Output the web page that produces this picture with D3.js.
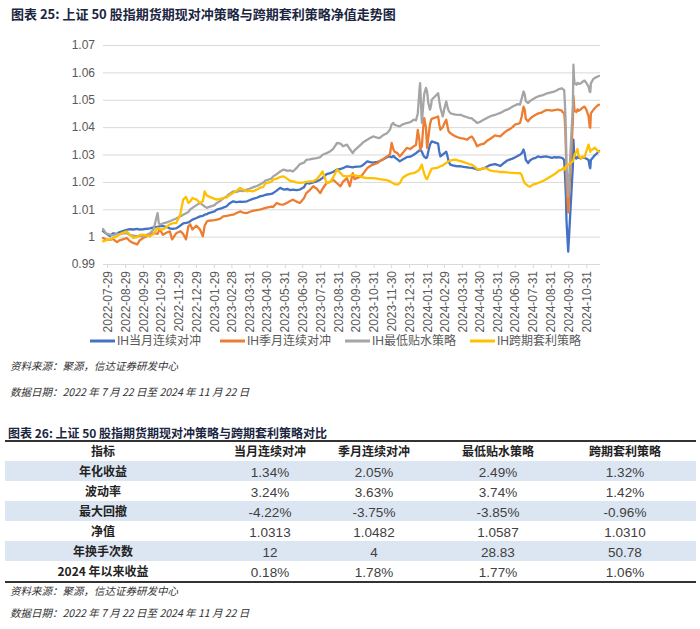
<!DOCTYPE html>
<html><head><meta charset="utf-8">
<script src="https://cdn.jsdelivr.net/npm/d3@7"></script>
<style>
body{margin:0;background:#fff;}
svg{display:block;}
</style></head>
<body><svg id="c" width="700" height="629"></svg>
<script>
const dates = [
"2022-07-22","2022-07-27","2022-08-03","2022-08-08","2022-08-15","2022-08-19","2022-08-25","2022-09-01","2022-09-06","2022-09-12",
"2022-09-19","2022-09-23","2022-09-29","2022-10-11","2022-10-17","2022-10-24","2022-10-26","2022-10-28","2022-11-02","2022-11-09",
"2022-11-14","2022-11-18","2022-11-25","2022-12-02","2022-12-07","2022-12-12","2022-12-16","2022-12-19","2022-12-23","2022-12-30",
"2023-01-05","2023-01-10","2023-01-13","2023-01-17","2023-01-20","2023-01-30","2023-02-03","2023-02-09","2023-02-14","2023-02-20",
"2023-02-24","2023-03-03","2023-03-09","2023-03-15","2023-03-20","2023-03-27","2023-03-31","2023-04-06","2023-04-13","2023-04-18",
"2023-04-24","2023-04-28","2023-05-08","2023-05-11","2023-05-17","2023-05-23","2023-05-29","2023-06-05","2023-06-09","2023-06-14",
"2023-06-20","2023-06-26","2023-07-03","2023-07-07","2023-07-13","2023-07-19","2023-07-25","2023-07-31","2023-08-04","2023-08-11",
"2023-08-17","2023-08-22","2023-08-29","2023-09-04","2023-09-08","2023-09-15","2023-09-20","2023-09-25","2023-09-28","2023-10-09",
"2023-10-13","2023-10-20","2023-10-25","2023-10-30","2023-11-06","2023-11-10","2023-11-16","2023-11-23","2023-11-28","2023-12-01",
"2023-12-04","2023-12-06","2023-12-11","2023-12-15","2023-12-20","2023-12-27","2024-01-02","2024-01-08","2024-01-12","2024-01-15",
"2024-01-18","2024-01-19","2024-01-22","2024-01-24","2024-01-26","2024-01-29","2024-01-31","2024-02-02","2024-02-05","2024-02-07",
"2024-02-08","2024-02-19","2024-02-21","2024-02-23","2024-02-27","2024-03-01","2024-03-04","2024-03-06","2024-03-08","2024-03-11",
"2024-03-15","2024-03-20","2024-03-25","2024-03-29","2024-04-03","2024-04-09","2024-04-12","2024-04-17","2024-04-19","2024-04-24",
"2024-04-26","2024-04-30","2024-05-08","2024-05-13","2024-05-17","2024-05-22","2024-05-27","2024-05-31","2024-06-05","2024-06-12",
"2024-06-17","2024-06-21","2024-06-26","2024-07-01","2024-07-05","2024-07-09","2024-07-12","2024-07-15","2024-07-17","2024-07-19",
"2024-07-23","2024-07-26","2024-07-31","2024-08-05","2024-08-09","2024-08-14","2024-08-19","2024-08-23","2024-08-28","2024-09-02",
"2024-09-06","2024-09-11","2024-09-13","2024-09-19","2024-09-20","2024-09-23","2024-09-24","2024-09-25","2024-09-26","2024-09-27",
"2024-09-30","2024-10-08","2024-10-09","2024-10-10","2024-10-11","2024-10-14","2024-10-16","2024-10-18","2024-10-22","2024-10-24",
"2024-10-28","2024-10-31","2024-11-04","2024-11-06","2024-11-07","2024-11-08","2024-11-12","2024-11-15","2024-11-19","2024-11-22"];

const ihMonthly = [
1.0020,1.0012,1.0002,1.0012,1.0010,1.0016,1.0020,1.0025,1.0027,1.0026,
1.0028,1.0026,1.0027,1.0030,1.0034,1.0036,1.0036,1.0038,1.0038,1.0035,
1.0030,1.0028,1.0030,1.0040,1.0048,1.0050,1.0052,1.0056,1.0062,1.0068,
1.0074,1.0076,1.0080,1.0082,1.0086,1.0092,1.0099,1.0102,1.0106,1.0111,
1.0120,1.0129,1.0126,1.0128,1.0127,1.0129,1.0133,1.0138,1.0142,1.0147,
1.0150,1.0153,1.0156,1.0159,1.0168,1.0178,1.0172,1.0174,1.0170,1.0172,
1.0170,1.0172,1.0180,1.0196,1.0194,1.0198,1.0202,1.0208,1.0215,1.0228,
1.0232,1.0236,1.0245,1.0247,1.0250,1.0257,1.0255,1.0253,1.0255,1.0257,
1.0262,1.0275,1.0272,1.0270,1.0273,1.0275,1.0282,1.0290,1.0293,1.0290,
1.0295,1.0290,1.0282,1.0275,1.0282,1.0290,1.0292,1.0299,1.0305,1.0310,
1.0315,1.0318,1.0310,1.0300,1.0292,1.0287,1.0290,1.0310,1.0336,1.0345,
1.0348,1.0340,1.0310,1.0293,1.0300,1.0305,1.0310,1.0295,1.0275,1.0263,
1.0260,1.0258,1.0257,1.0257,1.0255,1.0253,1.0252,1.0251,1.0250,1.0247,
1.0245,1.0245,1.0250,1.0255,1.0260,1.0263,1.0265,1.0262,1.0258,1.0270,
1.0278,1.0281,1.0285,1.0290,1.0295,1.0299,1.0305,1.0318,1.0305,1.0280,
1.0269,1.0278,1.0285,1.0288,1.0293,1.0290,1.0292,1.0293,1.0290,1.0288,
1.0290,1.0289,1.0290,1.0288,1.0287,1.0280,1.0245,1.0200,1.0150,1.0060,
0.9945,1.0260,1.0354,1.0310,1.0290,1.0285,1.0292,1.0288,1.0286,1.0290,
1.0288,1.0285,1.0280,1.0255,1.0250,1.0280,1.0290,1.0298,1.0305,1.0313];

const ihQuarterly = [
0.9995,0.9990,0.9988,0.9992,0.9980,0.9986,0.9990,0.9995,0.9984,0.9977,
0.9972,0.9986,0.9995,1.0007,1.0013,1.0010,1.0020,1.0026,1.0007,1.0015,
1.0019,0.9990,1.0012,1.0020,1.0010,0.9990,1.0038,1.0045,1.0026,1.0040,
1.0026,1.0001,1.0040,1.0056,1.0058,1.0060,1.0062,1.0066,1.0074,1.0076,
1.0078,1.0080,1.0086,1.0092,1.0088,1.0086,1.0090,1.0094,1.0097,1.0099,
1.0102,1.0105,1.0110,1.0108,1.0123,1.0118,1.0117,1.0125,1.0130,1.0135,
1.0128,1.0123,1.0140,1.0159,1.0170,1.0184,1.0175,1.0159,1.0175,1.0196,
1.0200,1.0208,1.0195,1.0184,1.0200,1.0214,1.0184,1.0232,1.0210,1.0220,
1.0230,1.0250,1.0258,1.0263,1.0268,1.0275,1.0283,1.0293,1.0300,1.0342,
1.0318,1.0310,1.0305,1.0293,1.0305,1.0324,1.0320,1.0330,1.0335,1.0390,
1.0350,1.0318,1.0330,1.0390,1.0433,1.0400,1.0324,1.0360,1.0410,1.0427,
1.0430,1.0439,1.0410,1.0390,1.0400,1.0415,1.0427,1.0405,1.0385,1.0378,
1.0372,1.0366,1.0362,1.0360,1.0358,1.0354,1.0360,1.0366,1.0360,1.0340,
1.0330,1.0335,1.0340,1.0350,1.0355,1.0362,1.0370,1.0368,1.0366,1.0380,
1.0388,1.0392,1.0400,1.0410,1.0412,1.0415,1.0440,1.0475,1.0465,1.0430,
1.0421,1.0430,1.0439,1.0445,1.0450,1.0452,1.0458,1.0462,1.0462,1.0460,
1.0462,1.0464,1.0464,1.0460,1.0455,1.0451,1.0430,1.0390,1.0320,1.0200,
1.0088,1.0420,1.0515,1.0480,1.0460,1.0455,1.0465,1.0460,1.0465,1.0470,
1.0475,1.0465,1.0440,1.0400,1.0398,1.0450,1.0462,1.0470,1.0478,1.0482];

const ihLowBasis = [
1.0028,1.0012,1.0007,1.0005,1.0010,1.0008,1.0012,1.0013,1.0006,1.0004,
1.0002,1.0003,1.0001,1.0012,1.0026,1.0086,1.0050,1.0044,1.0048,1.0052,
1.0056,1.0060,1.0066,1.0074,1.0080,1.0085,1.0090,1.0099,1.0105,1.0115,
1.0123,1.0115,1.0110,1.0105,1.0108,1.0115,1.0123,1.0130,1.0140,1.0147,
1.0155,1.0165,1.0163,1.0168,1.0166,1.0172,1.0175,1.0180,1.0185,1.0190,
1.0198,1.0205,1.0212,1.0220,1.0228,1.0238,1.0245,1.0240,1.0242,1.0238,
1.0250,1.0265,1.0270,1.0280,1.0282,1.0285,1.0287,1.0290,1.0299,1.0305,
1.0311,1.0320,1.0342,1.0340,1.0330,1.0336,1.0320,1.0305,1.0315,1.0336,
1.0345,1.0354,1.0360,1.0366,1.0362,1.0360,1.0370,1.0378,1.0390,1.0410,
1.0415,1.0408,1.0405,1.0403,1.0410,1.0415,1.0418,1.0427,1.0425,1.0450,
1.0540,1.0561,1.0415,1.0470,1.0520,1.0543,1.0530,1.0490,1.0464,1.0480,
1.0500,1.0524,1.0495,1.0470,1.0439,1.0470,1.0494,1.0475,1.0460,1.0451,
1.0448,1.0446,1.0445,1.0445,1.0440,1.0436,1.0434,1.0432,1.0428,1.0420,
1.0415,1.0418,1.0428,1.0433,1.0438,1.0442,1.0445,1.0448,1.0452,1.0460,
1.0464,1.0468,1.0475,1.0480,1.0484,1.0482,1.0505,1.0530,1.0520,1.0495,
1.0488,1.0495,1.0502,1.0508,1.0512,1.0515,1.0518,1.0522,1.0525,1.0528,
1.0530,1.0535,1.0538,1.0542,1.0540,1.0535,1.0500,1.0450,1.0380,1.0260,
1.0146,1.0480,1.0628,1.0580,1.0560,1.0555,1.0562,1.0558,1.0560,1.0565,
1.0570,1.0562,1.0548,1.0530,1.0528,1.0560,1.0575,1.0580,1.0584,1.0587];

const ihCalendar = [
0.9983,0.9986,0.9990,0.9995,1.0001,1.0008,1.0014,1.0019,1.0008,0.9995,
0.9998,1.0006,1.0007,1.0001,1.0010,1.0032,1.0030,1.0026,1.0026,1.0036,
1.0045,1.0048,1.0050,1.0080,1.0135,1.0145,1.0123,1.0128,1.0141,1.0135,
1.0123,1.0130,1.0165,1.0150,1.0147,1.0138,1.0135,1.0138,1.0141,1.0143,
1.0150,1.0159,1.0168,1.0178,1.0172,1.0165,1.0168,1.0165,1.0172,1.0178,
1.0182,1.0195,1.0200,1.0208,1.0212,1.0218,1.0220,1.0210,1.0204,1.0202,
1.0198,1.0196,1.0198,1.0200,1.0202,1.0202,1.0210,1.0225,1.0238,1.0196,
1.0200,1.0215,1.0245,1.0232,1.0222,1.0220,1.0222,1.0226,1.0224,1.0220,
1.0216,1.0214,1.0214,1.0214,1.0212,1.0210,1.0208,1.0206,1.0202,1.0198,
1.0195,1.0192,1.0190,1.0195,1.0215,1.0225,1.0230,1.0232,1.0236,1.0240,
1.0245,1.0250,1.0263,1.0245,1.0230,1.0214,1.0210,1.0220,1.0235,1.0245,
1.0248,1.0252,1.0255,1.0257,1.0260,1.0265,1.0269,1.0272,1.0275,1.0278,
1.0280,1.0281,1.0278,1.0276,1.0272,1.0268,1.0265,1.0263,1.0260,1.0252,
1.0247,1.0245,1.0250,1.0248,1.0243,1.0240,1.0238,1.0238,1.0236,1.0236,
1.0235,1.0234,1.0233,1.0232,1.0232,1.0232,1.0225,1.0205,1.0196,1.0192,
1.0185,1.0182,1.0190,1.0193,1.0196,1.0200,1.0205,1.0210,1.0216,1.0222,
1.0228,1.0235,1.0240,1.0245,1.0248,1.0252,1.0245,1.0250,1.0255,1.0260,
1.0262,1.0275,1.0280,1.0290,1.0300,1.0310,1.0320,1.0295,1.0285,1.0292,
1.0290,1.0310,1.0336,1.0320,1.0310,1.0315,1.0320,1.0325,1.0315,1.0310];

const seriesNames = ["IH当月连续对冲","IH季月连续对冲","IH最低贴水策略","IH跨期套利策略"];
const seriesColors = ["#4472c4","#ed7d31","#a5a5a5","#ffc000"];

const xTickLabels = ["2022-07-29","2022-08-29","2022-09-29","2022-10-29","2022-11-29","2022-12-29",
"2023-01-29","2023-02-28","2023-03-31","2023-04-30","2023-05-31","2023-06-30","2023-07-31","2023-08-31",
"2023-09-30","2023-10-31","2023-11-30","2023-12-31","2024-01-31","2024-02-29","2024-03-31","2024-04-30",
"2024-05-31","2024-06-30","2024-07-31","2024-08-31","2024-09-30","2024-10-31"];
const yTicks = [0.99,1.00,1.01,1.02,1.03,1.04,1.05,1.06,1.07];

const tableHeaders = ["指标","当月连续对冲","季月连续对冲","最低贴水策略","跨期套利策略"];
const rowLabels = ["年化收益","波动率","最大回撤","净值","年换手次数","2024 年以来收益"];
const colMonthly = ["1.34%","3.24%","-4.22%","1.0313","12","0.18%"];
const colQuarterly = ["2.05%","3.63%","-3.75%","1.0482","4","1.78%"];
const colLowBasis = ["2.49%","3.74%","-3.85%","1.0587","28.83","1.77%"];
const colCalendar = ["1.32%","1.42%","-0.96%","1.0310","50.78","1.06%"];

const title1 = "图表 25: 上证 50 股指期货期现对冲策略与跨期套利策略净值走势图";
const title2 = "图表 26: 上证 50 股指期货期现对冲策略与跨期套利策略对比";
const sourceText = "资料来源：聚源，信达证券研发中心";
const dateText = "数据日期：2022 年 7 月 22 日至 2024 年 11 月 22 日";

// ---------- drawing ----------
const svg = d3.select("#c");
const FONT = "'Liberation Sans','Noto Sans CJK SC',sans-serif";
const CJK = "'Noto Sans CJK SC','Liberation Sans',sans-serif";
svg.append("rect").attr("width",700).attr("height",629).attr("fill","#fff");

const parse = d3.timeParse("%Y-%m-%d");
const dts = dates.map(parse);
const x = d3.scaleTime().domain([dts[0], dts[dts.length-1]]).range([103, 599]);
const y = d3.scaleLinear().domain([0.99, 1.07]).range([264, 45]);

svg.append("text").attr("x",11).attr("y",19).text(title1)
  .attr("font-family",CJK).attr("font-weight","bold").attr("font-size",13).attr("fill","#1a2540");

// y grid + labels
const yAxis = svg.append("g").attr("transform","translate(103,0)")
  .call(d3.axisLeft(y).tickValues(yTicks).tickSize(-497).tickPadding(8)
    .tickFormat(d => String(+d.toFixed(2))));
yAxis.select(".domain").remove();
yAxis.selectAll("line").attr("stroke","#d9d9d9");
yAxis.selectAll("text").attr("fill","#595959").attr("font-size",12).attr("font-family",FONT);

// x axis
const xAxis = svg.append("g").attr("transform","translate(0,264)")
  .call(d3.axisBottom(x).tickValues(xTickLabels.map(parse)).tickSize(4).tickSizeOuter(0)
    .tickFormat(d3.timeFormat("%Y-%m-%d")));
xAxis.select(".domain").attr("stroke","#d9d9d9");
xAxis.selectAll("line").attr("stroke","#d9d9d9");
xAxis.selectAll("text").attr("fill","#595959").attr("font-size",12).attr("font-family",FONT)
  .attr("transform","rotate(-90)").attr("text-anchor","end")
  .attr("x",-7).attr("y",0).attr("dy","0.35em");

// lines
const allSeries = [ihMonthly, ihQuarterly, ihLowBasis, ihCalendar];
const line = d3.line().x((d,i)=>x(dts[i])).y(d=>y(d));
allSeries.forEach((s,k)=>{
  svg.append("path").datum(s).attr("d",line).attr("fill","none")
    .attr("stroke",seriesColors[k]).attr("stroke-width",2.3)
    .attr("stroke-linejoin","round").attr("stroke-linecap","round");
});

// legend
const legX = [90, 220, 345, 470];
seriesNames.forEach((n,k)=>{
  const g = svg.append("g").attr("transform",`translate(${legX[k]},341)`);
  g.append("line").attr("x1",0).attr("x2",25).attr("y1",0).attr("y2",0)
    .attr("stroke",seriesColors[k]).attr("stroke-width",3);
  g.append("text").attr("x",27).attr("y",0).attr("dy","0.35em").text(n)
    .attr("font-family",FONT).attr("font-size",12).attr("fill","#595959");
});

// source / date notes
function note(t, yy){
  svg.append("text").attr("x",10).attr("y",yy).text(t)
    .attr("font-family",CJK).attr("font-size",10.5).attr("font-style","italic").attr("fill","#333");
}
note(sourceText, 370);
note(dateText, 396);

// ---------- table ----------
svg.append("text").attr("x",8).attr("y",438).text(title2)
  .attr("font-family",CJK).attr("font-weight","bold").attr("font-size",12).attr("fill","#1a2540");

const rowH = 20, tTop = 441;
const colX = [103, 270, 374, 498, 625];
const cols = [colMonthly, colQuarterly, colLowBasis, colCalendar];
rowLabels.forEach((r,i)=>{
  if (i % 2 === 0) svg.append("rect").attr("x",5).attr("width",691)
    .attr("y",tTop+rowH*(i+1)).attr("height",rowH).attr("fill","#dce6f2");
});
svg.append("line").attr("x1",5).attr("x2",696).attr("y1",tTop).attr("y2",tTop)
  .attr("stroke","#333").attr("stroke-width",2);
svg.append("line").attr("x1",5).attr("x2",696).attr("y1",tTop+rowH*7+1).attr("y2",tTop+rowH*7+1)
  .attr("stroke","#333").attr("stroke-width",2);

tableHeaders.forEach((h,j)=>{
  svg.append("text").attr("x",colX[j]).attr("y",tTop+rowH/2+1).attr("dy","0.35em")
    .attr("text-anchor","middle").text(h)
    .attr("font-family",CJK).attr("font-weight","bold").attr("font-size",12).attr("fill","#222");
});
rowLabels.forEach((r,i)=>{
  const cy = tTop + rowH*(i+1) + rowH/2 + 1;
  svg.append("text").attr("x",colX[0]).attr("y",cy).attr("dy","0.35em")
    .attr("text-anchor","middle").text(r)
    .attr("font-family",CJK).attr("font-weight","bold").attr("font-size",12).attr("fill","#222");
  cols.forEach((c,j)=>{
    svg.append("text").attr("x",colX[j+1]).attr("y",cy).attr("dy","0.35em")
      .attr("text-anchor","middle").text(c[i])
      .attr("font-family","'Liberation Sans Narrow','Liberation Sans',sans-serif")
      .attr("font-size",13.5).attr("fill","#404040");
  });
});
note(sourceText, 595);
note(dateText, 617);
</script></body></html>
